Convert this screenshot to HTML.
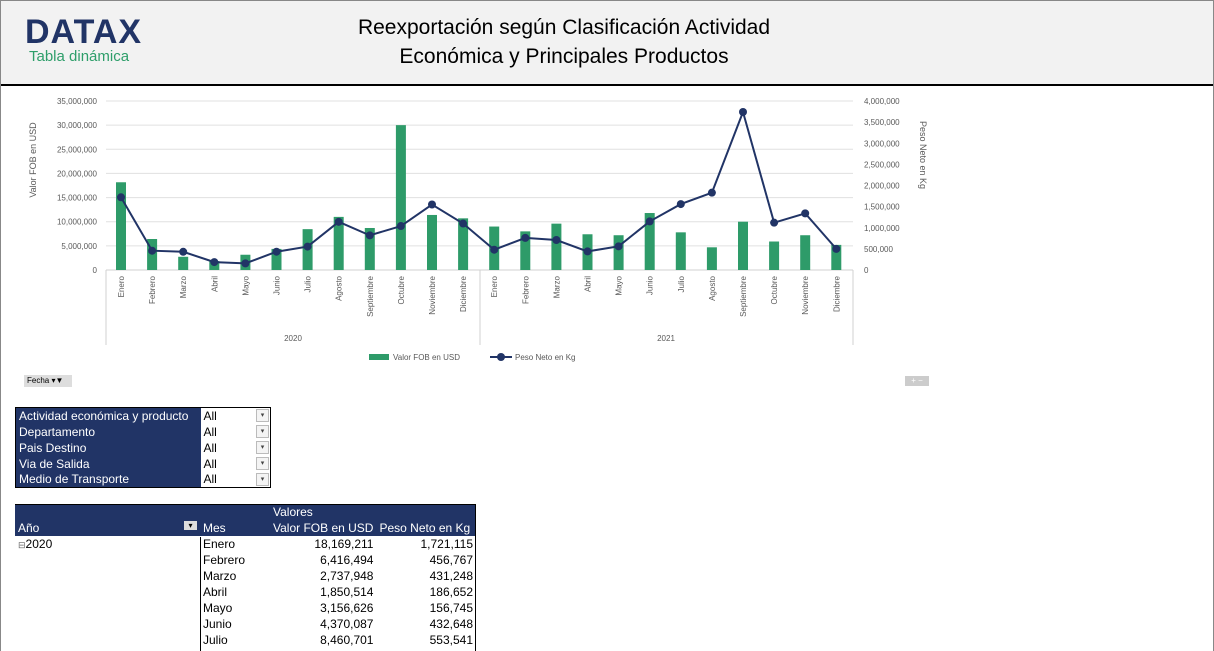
<!DOCTYPE html>
<html><head><meta charset="utf-8"><style>
*{margin:0;padding:0;box-sizing:border-box}
body{width:1214px;height:651px;overflow:hidden;background:#fff;font-family:"Liberation Sans",sans-serif;position:relative}
#frame{position:absolute;left:0;top:0;width:1214px;height:651px;border:1px solid #888;border-bottom:none}
#head{position:absolute;left:1px;top:1px;width:1212px;height:85px;background:#f2f2f2;border-bottom:2px solid #000}
.logo{position:absolute;left:24px;top:12px;font-size:34px;font-weight:bold;color:#213466;letter-spacing:1px}
.sub{position:absolute;left:28px;top:47px;font-size:15px;color:#2e9e6a}
.title{position:absolute;left:313px;width:500px;top:12px;text-align:center;font-size:21px;line-height:29px;color:#000}
table{border-collapse:collapse;position:absolute;font-size:12px}
td{height:16px;padding:0 3px;white-space:nowrap}
.f td.l{background:#213466;color:#fff;width:185px}
.f td.v{background:#fff;width:70px;position:relative}
.dd{position:absolute;right:1px;top:1px;width:13px;height:13px;border:1px solid #bbb;background:#f4f4f4;font-size:7px;text-align:center;line-height:12px;color:#444}
.p td{height:16px}
.hd td{background:#213466;color:#fff}
.n{text-align:right}
</style></head><body>
<div id="frame"></div>
<div id="head">
<div class="logo">DATAX</div>
<div class="sub">Tabla dinámica</div>
<div class="title">Reexportación según Clasificación Actividad<br>Económica y Principales Productos</div>
</div>
<svg id="c" width="1214" height="400" style="position:absolute;left:0;top:0" font-family="Liberation Sans, sans-serif"></svg>
<div style="position:absolute;left:24px;top:375px;width:48px;height:12px;background:#ddd;font-size:8px;line-height:12px;padding-left:3px">Fecha ▾▼</div>
<div style="position:absolute;left:905px;top:376px;width:24px;height:10px;background:#ccc;font-size:8px;line-height:10px;color:#fff;text-align:center">+ −</div>
<table class="f" style="left:15px;top:407px;border:1px solid #000">
<tr><td class="l">Actividad económica y producto</td><td class="v">All<span class="dd">▾</span></td></tr>
<tr><td class="l">Departamento</td><td class="v">All<span class="dd">▾</span></td></tr>
<tr><td class="l">Pais Destino</td><td class="v">All<span class="dd">▾</span></td></tr>
<tr><td class="l">Via de Salida</td><td class="v">All<span class="dd">▾</span></td></tr>
<tr><td class="l">Medio de Transporte</td><td class="v">All<span class="dd">▾</span></td></tr>
</table>
<table class="p" style="left:15px;top:504px;width:461px">
<tr class="hd"><td style="width:185px"></td><td style="width:70px"></td><td colspan="2">Valores</td></tr>
<tr class="hd"><td>Año<span style="float:right;background:#ddd;color:#000;font-size:8px;width:13px;text-align:center">▾</span></td><td>Mes</td><td style="width:105px">Valor FOB en USD</td><td>Peso Neto en Kg</td></tr>
<tr><td><span style="font-size:9px;color:#666">⊟</span>2020</td><td>Enero</td><td class="n">18,169,211</td><td class="n">1,721,115</td></tr>
<tr><td></td><td>Febrero</td><td class="n">6,416,494</td><td class="n">456,767</td></tr>
<tr><td></td><td>Marzo</td><td class="n">2,737,948</td><td class="n">431,248</td></tr>
<tr><td></td><td>Abril</td><td class="n">1,850,514</td><td class="n">186,652</td></tr>
<tr><td></td><td>Mayo</td><td class="n">3,156,626</td><td class="n">156,745</td></tr>
<tr><td></td><td>Junio</td><td class="n">4,370,087</td><td class="n">432,648</td></tr>
<tr><td></td><td>Julio</td><td class="n">8,460,701</td><td class="n">553,541</td></tr>
</table>
<div style="position:absolute;left:200px;top:537px;width:1px;height:114px;background:#000"></div>
<div style="position:absolute;left:475px;top:504px;width:1px;height:147px;background:#000"></div>
<div style="position:absolute;left:15px;top:504px;width:461px;height:1px;background:#000"></div>
<script>
var s=document.getElementById('c'),h='';
var bars=[18.17,6.42,2.74,1.85,3.16,4.37,8.46,11,8.7,30,11.4,10.7,9,8,9.6,7.4,7.2,11.8,7.8,4.7,10,5.9,7.2,5.2];
var ln=[1.721,.457,.431,.187,.157,.433,.554,1.14,.82,1.04,1.55,1.1,.48,.76,.71,.44,.56,1.15,1.56,1.83,3.74,1.12,1.34,.5];
var m=['Enero','Febrero','Marzo','Abril','Mayo','Junio','Julio','Agosto','Septiembre','Octubre','Noviembre','Diciembre'];
var y0=270,k=169/35;
for(var i=0;i<=7;i++){var y=y0-i*5*k;h+='<line x1="106" x2="853" y1="'+y+'" y2="'+y+'" stroke="#e0e0e0"/>';
h+='<text x="97" y="'+(y+3)+'" font-size="8" fill="#595959" text-anchor="end">'+(i?(i*5).toLocaleString('en')+',000,000':'0')+'</text>';}
for(var j=0;j<=8;j++){var y=y0-j*169/8;
h+='<text x="864" y="'+(y+3)+'" font-size="8" fill="#595959">'+(j?(j*500000).toLocaleString('en'):'0')+'</text>';}
h+='<text transform="translate(36,160) rotate(-90)" font-size="9" fill="#595959" text-anchor="middle">Valor FOB en USD</text>';
h+='<text transform="translate(920,155) rotate(90)" font-size="9" fill="#595959" text-anchor="middle">Peso Neto en Kg</text>';
h+='<line x1="106" x2="853" y1="270" y2="270" stroke="#d0d0d0"/>';
[106,480,853].forEach(function(x){h+='<line x1="'+x+'" x2="'+x+'" y1="270" y2="345" stroke="#d0d0d0"/>'});
var pts=[];
for(var i=0;i<24;i++){var cx=121+i*31.1,bh=bars[i]*k;
h+='<rect x="'+(cx-5)+'" y="'+(y0-bh)+'" width="10" height="'+bh+'" fill="#2e9b69"/>';
pts.push(cx+','+(y0-ln[i]*169/4));
h+='<text transform="translate('+(cx+3)+',276) rotate(-90)" font-size="8" fill="#595959" text-anchor="end">'+m[i%12]+'</text>';}
h+='<polyline points="'+pts.join(' ')+'" fill="none" stroke="#213466" stroke-width="2"/>';
pts.forEach(function(p){p=p.split(',');h+='<circle cx="'+p[0]+'" cy="'+p[1]+'" r="4" fill="#213466"/>'});
h+='<text x="293" y="341" font-size="8" fill="#595959" text-anchor="middle">2020</text><text x="666" y="341" font-size="8" fill="#595959" text-anchor="middle">2021</text>';
h+='<rect x="369" y="354" width="20" height="6" fill="#2e9b69"/><text x="393" y="360" font-size="8" fill="#595959">Valor FOB en USD</text>';
h+='<line x1="490" x2="512" y1="357" y2="357" stroke="#213466" stroke-width="2"/><circle cx="501" cy="357" r="4" fill="#213466"/><text x="515" y="360" font-size="8" fill="#595959">Peso Neto en Kg</text>';
s.innerHTML=h;
</script>
</body></html>
